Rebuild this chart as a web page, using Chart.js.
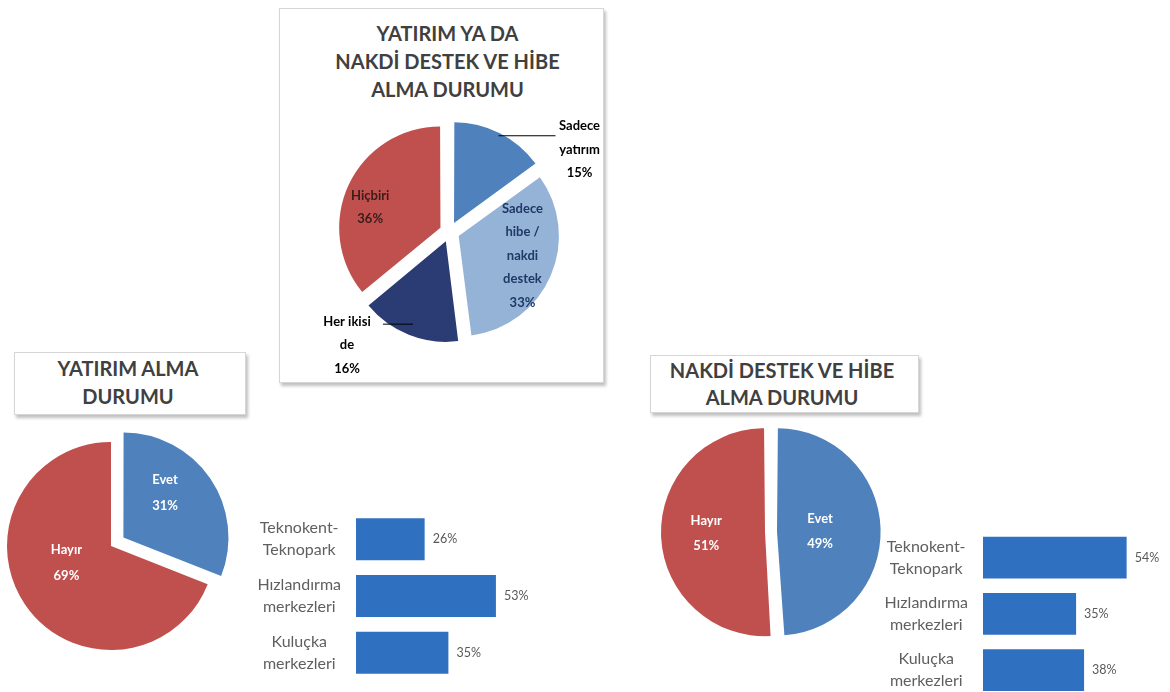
<!DOCTYPE html>
<html lang="tr">
<head>
    <meta charset="UTF-8">
    <title>Yatırım ve Hibe Alma Durumu</title>
    <style>
        body {
            margin: 0;
            width: 1170px;
            height: 692px;
            overflow: hidden;
            position: relative;
            background: #fff;
            font-family: 'Lato', sans-serif;
        }

        .box {
            position: absolute;
            box-sizing: border-box;
            background: #fff;
            border: 1px solid #d6d6d6;
            box-shadow: 2px 3px 3px rgba(0, 0, 0, 0.25);
        }

        .title {
            position: absolute;
            font-weight: bold;
            font-size: 20px;
            line-height: 27px;
            color: #404040;
            text-align: center;
            white-space: nowrap;
        }

        .chart {
            position: absolute;
        }
    </style>
</head>
<body>
    <div class="box" style="left:279px; top:8px; width:325px; height:375px;">
        <div class="title" style="left:0; width:335px; top:10px; line-height:28px;">YATIRIM YA DA<br>NAKDİ DESTEK VE HİBE<br>ALMA DURUMU</div>
        <div class="chart" style="left:0; top:0; width:323px; height:373px;"><canvas id="pieBoth"></canvas></div>
    </div>

    <div class="box" style="left:14px; top:352px; width:232px; height:63px;">
        <div class="title" style="left:0; width:226px; top:1px; line-height:28px;">YATIRIM ALMA<br>DURUMU</div>
    </div>

    <div class="box" style="left:650px; top:355px; width:269px; height:58px;">
        <div class="title" style="left:0; width:262px; top:1px;">NAKDİ DESTEK VE HİBE<br>ALMA DURUMU</div>
    </div>

    <div class="chart" style="left:-30px; top:400px; width:290px; height:290px;"><canvas id="pieInvest"></canvas></div>
    <div class="chart" style="left:640px; top:415px; width:260px; height:240px;"><canvas id="pieGrant"></canvas></div>
    <div class="chart" style="left:230px; top:500px; width:330px; height:190px;"><canvas id="barInvest"></canvas></div>
    <div class="chart" style="left:850px; top:520px; width:320px; height:180px;"><canvas id="barGrant"></canvas></div>

    <script src="https://cdn.jsdelivr.net/npm/chart.js"></script>
    <script>
        // values (percent)
        const topCategories = [['Sadece', 'yatırım'], ['Sadece', 'hibe /', 'nakdi', 'destek'], ['Her ikisi', 'de'], ['Hiçbiri']];
        const topValues = [15, 33, 16, 36];

        const investCategories = ['Evet', 'Hayır'];
        const investValues = [31, 69];

        const grantCategories = ['Evet', 'Hayır'];
        const grantValues = [49, 51];

        const centerCategories = [['Teknokent-', 'Teknopark'], ['Hızlandırma', 'merkezleri'], ['Kuluçka', 'merkezleri']];
        const investCenterValues = [26, 53, 35];
        const grantCenterValues = [54, 35, 38];

        const RED = '#C0504D';
        const BLUE = '#4F81BD';
        const LIGHT_BLUE = '#95B3D7';
        const NAVY = '#2B3B73';
        const BAR_BLUE = '#3070C0';

        Chart.defaults.font.family = 'Lato';

        // chart area padding so that a pie with centre (cx, cy), radius r and max offset o sits in page coords
        function piePadding(boxLeft, boxTop, boxW, boxH, cx, cy, r, o) {
            const size = 2 * r + o;
            const left = cx - size / 2 - boxLeft;
            const top = cy - size / 2 - boxTop;
            return { left: left, top: top, right: boxW - left - size, bottom: boxH - top - size };
        }

        // labels on / next to each slice, placed from the arc geometry
        const sliceLabels = {
            id: 'sliceLabels',
            afterDatasetsDraw(chart, args, opts) {
                const ctx = chart.ctx;
                const meta = chart.getDatasetMeta(0);
                const values = chart.data.datasets[0].data;
                meta.data.forEach((arc, i) => {
                    const s = opts.items[i];
                    const p = arc.getProps(['x', 'y', 'startAngle', 'endAngle', 'outerRadius'], true);
                    const mid = (p.startAngle + p.endAngle) / 2;
                    const dist = (arc.options.offset || 0) / 4 + s.f * p.outerRadius;
                    let px = p.x + Math.cos(mid) * dist;
                    let py = p.y + Math.sin(mid) * dist;
                    ctx.save();
                    if (s.leader) {
                        ctx.strokeStyle = '#000';
                        ctx.lineWidth = 1;
                        ctx.beginPath();
                        ctx.moveTo(px, py);
                        px += s.leader;
                        ctx.lineTo(px, py);
                        ctx.stroke();
                    }
                    const lines = [].concat(chart.data.labels[i], values[i] + '%');
                    const cx = px + (s.dx || 0);
                    const cy = py + (s.dy || 0);
                    const first = cy - (lines.length - 1) * opts.lineHeight / 2;
                    ctx.font = opts.font;
                    ctx.fillStyle = s.color;
                    ctx.textAlign = 'center';
                    ctx.textBaseline = 'middle';
                    lines.forEach((t, k) => ctx.fillText(t, cx, first + k * opts.lineHeight));
                    ctx.restore();
                });
            }
        };

        const barValues = {
            id: 'barValues',
            afterDatasetsDraw(chart) {
                const ctx = chart.ctx;
                const meta = chart.getDatasetMeta(0);
                const values = chart.data.datasets[0].data;
                ctx.save();
                ctx.font = '12.5px Lato';
                ctx.fillStyle = '#595959';
                ctx.textAlign = 'left';
                ctx.textBaseline = 'middle';
                meta.data.forEach((bar, i) => ctx.fillText(values[i] + '%', bar.x + 8, bar.y));
                ctx.restore();
            }
        };

        function pieOptions(padding, labelOpts) {
            return {
                responsive: true,
                maintainAspectRatio: false,
                animation: false,
                layout: { padding: padding },
                events: [],
                plugins: {
                    legend: { display: false },
                    tooltip: { enabled: false },
                    sliceLabels: labelOpts
                }
            };
        }

        // top pie: all slices pulled out
        new Chart(document.getElementById('pieBoth'), {
            type: 'pie',
            data: {
                labels: topCategories,
                datasets: [{
                    data: topValues,
                    backgroundColor: [BLUE, LIGHT_BLUE, NAVY, RED],
                    borderWidth: 0,
                    hoverBorderWidth: 0,
                    offset: 40,
                    hoverOffset: 0,
                    clip: false
                }]
            },
            options: pieOptions(piePadding(280, 9, 323, 373, 449.5, 232, 99, 40), {
                font: 'bold 13px Lato',
                lineHeight: 23.5,
                items: [
                    { f: 0.99, leader: 57, dx: 24, dy: 14, color: '#000' },
                    { f: 0.68, dx: 2, dy: -7, color: '#1F3864' },
                    { f: 0.9, leader: -30, dx: -36, dy: 21, color: '#000' },
                    { f: 0.74, dx: -4, dy: 11, color: '#3A1C1C' }
                ]
            }),
            plugins: [sliceLabels]
        });

        new Chart(document.getElementById('pieInvest'), {
            type: 'pie',
            data: {
                labels: investCategories,
                datasets: [{
                    data: investValues,
                    backgroundColor: [BLUE, RED],
                    borderWidth: 0,
                    hoverBorderWidth: 0,
                    offset: [60, 0],
                    hoverOffset: 0,
                    clip: false
                }]
            },
            options: pieOptions(piePadding(-30, 400, 290, 290, 111, 546, 104, 60), {
                font: 'bold 13px Lato',
                lineHeight: 26,
                items: [
                    { f: 0.6, dx: -10, dy: -10, color: '#fff' },
                    { f: 0.46, dx: -5, dy: -10, color: '#fff' }
                ]
            }),
            plugins: [sliceLabels]
        });

        new Chart(document.getElementById('pieGrant'), {
            type: 'pie',
            data: {
                labels: grantCategories,
                datasets: [{
                    data: grantValues,
                    backgroundColor: [BLUE, RED],
                    borderWidth: 0,
                    hoverBorderWidth: 0,
                    offset: 24,
                    hoverOffset: 0,
                    clip: false
                }]
            },
            options: pieOptions(piePadding(640, 415, 260, 240, 771, 532, 98, 24), {
                font: 'bold 13px Lato',
                lineHeight: 25,
                items: [
                    { f: 0.44, dy: 1, color: '#fff' },
                    { f: 0.6, dy: -1, color: '#fff' }
                ]
            }),
            plugins: [sliceLabels]
        });

        function barChart(id, values, axisWidth, padding) {
            return new Chart(document.getElementById(id), {
                type: 'bar',
                data: {
                    labels: centerCategories,
                    datasets: [{
                        data: values,
                        backgroundColor: BAR_BLUE,
                        barPercentage: 0.74,
                        categoryPercentage: 1
                    }]
                },
                options: {
                    indexAxis: 'y',
                    responsive: true,
                    maintainAspectRatio: false,
                    animation: false,
                    events: [],
                    layout: { padding: padding },
                    plugins: {
                        legend: { display: false },
                        tooltip: { enabled: false }
                    },
                    scales: {
                        x: { display: false, min: 0, max: 60 },
                        y: {
                            grid: { display: false },
                            border: { display: false },
                            ticks: {
                                color: '#5f5f5f',
                                font: { size: 16, lineHeight: 1.375 },
                                padding: 7,
                                crossAlign: 'center'
                            },
                            afterFit(scale) {
                                // fixed label column, and no extra room kept for the label halves
                                scale.width = axisWidth;
                                scale.paddingTop = 0;
                                scale.paddingBottom = 0;
                            }
                        }
                    }
                },
                plugins: [barValues]
            });
        }

        barChart('barInvest', investCenterValues, 126, { left: 0, top: 11, right: 45.6, bottom: 9 });
        barChart('barGrant', grantCenterValues, 133, { left: 0, top: 9.5, right: 27.4, bottom: 1.75 });
    </script>
</body>
</html>
